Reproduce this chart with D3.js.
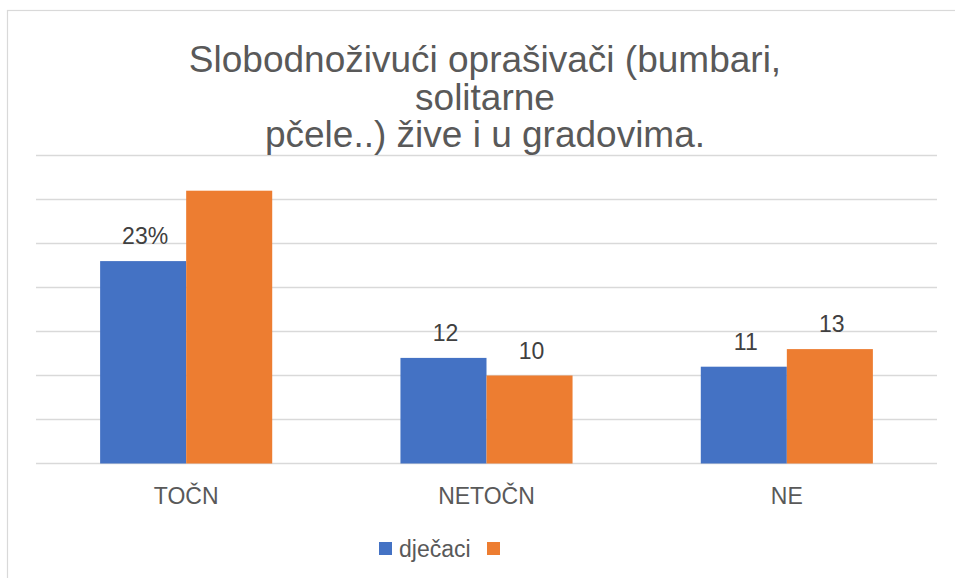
<!DOCTYPE html>
<html><head><meta charset="utf-8">
<script src="https://cdn.jsdelivr.net/npm/d3@7"></script>
<style>body{margin:0;background:#fff;font-family:"Liberation Sans",Arial,sans-serif}</style>
</head><body>
<svg id="c" width="955" height="578"></svg>
<script>
const titleLines = ["Slobodnoživući oprašivači (bumbari,", "solitarne", "pčele..) žive i u gradovima."];
const categories = ["TOČN", "NETOČN", "NE"];
const seriesNames = ["dječaci", ""];
const boys = [23, 12, 11];
const girls = [31, 10, 13];
const boysLabels = ["23%", "12", "11"];
const girlsLabels = ["", "10", "13"];
const yTicks = [0, 5, 10, 15, 20, 25, 30, 35];
const colors = ["#4472C4", "#ED7D31"];

const svg = d3.select("#c");
svg.append("rect").attr("x", 7.5).attr("y", 10.5).attr("width", 980).attr("height", 600)
  .attr("fill", "#fff").attr("stroke", "#d9d9d9").attr("stroke-width", 1.2);

const y = d3.scaleLinear().domain([0, 35]).range([463.5, 155.5]);
const x = d3.scaleBand().domain(categories).range([36, 937]).paddingInner(0.427).paddingOuter(0.2135);
const xs = d3.scaleBand().domain([0, 1]).range([0, x.bandwidth()]);

svg.append("g").selectAll("line").data(yTicks).join("line")
  .attr("x1", 36).attr("x2", 937).attr("y1", d => y(d)).attr("y2", d => y(d))
  .attr("stroke", "#d9d9d9").attr("stroke-width", 1.3);

const series = [boys, girls];
const labels = [boysLabels, girlsLabels];
series.forEach((vals, si) => {
  svg.append("g").selectAll("rect").data(vals).join("rect")
    .attr("x", (d, i) => x(categories[i]) + xs(si))
    .attr("width", xs.bandwidth())
    .attr("y", d => y(d))
    .attr("height", d => y(0) - y(d))
    .attr("fill", colors[si]);
  svg.append("g").selectAll("text").data(vals).join("text")
    .attr("x", (d, i) => x(categories[i]) + xs(si) + xs.bandwidth() / 2 + 2)
    .attr("y", d => y(d) - 17)
    .attr("text-anchor", "middle")
    .attr("font-size", 23).attr("fill", "#404040")
    .text((d, i) => labels[si][i]);
});

svg.append("g").selectAll("text").data(categories).join("text")
  .attr("x", d => x(d) + x.bandwidth() / 2)
  .attr("y", 504)
  .attr("text-anchor", "middle").attr("font-size", 23).attr("fill", "#595959")
  .text(d => d);

svg.append("g").selectAll("text").data(titleLines).join("text")
  .attr("x", 485).attr("y", (d, i) => 72 + i * 37.5)
  .attr("text-anchor", "middle").attr("font-size", 37).attr("fill", "#595959")
  .text(d => d);

const lg = svg.append("g");
const legendX = [379, 487];
seriesNames.forEach((n, i) => {
  lg.append("rect").attr("x", legendX[i]).attr("y", 542).attr("width", 13).attr("height", 13).attr("fill", colors[i]);
  lg.append("text").attr("x", legendX[i] + 20).attr("y", 557).attr("font-size", 23).attr("fill", "#595959").text(n);
});
</script>
</body></html>
